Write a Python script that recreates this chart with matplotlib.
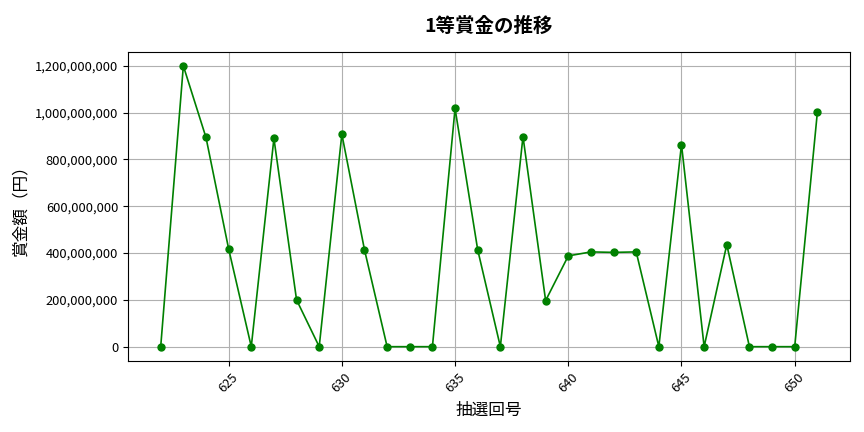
import matplotlib
matplotlib.use("Agg")
import matplotlib.pyplot as plt
from matplotlib.ticker import FuncFormatter

plt.rcParams['font.family'] = ['Noto Sans CJK JP', 'DejaVu Sans']

draws = list(range(622, 652))
prizes = [
    0, 1200000000, 894000000, 418000000, 0, 890000000, 200000000, 0,
    908000000, 414000000, 0, 0, 0, 1018000000, 414000000, 0,
    898000000, 197000000, 388000000, 405000000, 403000000, 405000000, 0,
    864000000, 0, 436000000, 0, 0, 0, 1001000000,
]


def main():
    fig, ax = plt.subplots(figsize=(8.64, 4.32), dpi=100)
    ax.plot(draws, prizes, '-o', color='green', markersize=5, linewidth=1.2)
    ax.set_title("1等賞金の推移", fontsize=14, fontweight='bold', pad=14)
    ax.set_xlabel("抽選回号", fontsize=12, labelpad=5)
    ax.set_ylabel("賞金額（円）", fontsize=12, labelpad=4)
    ax.yaxis.set_major_formatter(FuncFormatter(lambda v, p: f"{int(v):,}"))
    ax.tick_params(axis='x', rotation=45)
    ax.tick_params(labelsize=9.3)
    ax.grid(True, color='#b0b0b0', linewidth=0.8)
    fig.subplots_adjust(left=0.148, right=0.984, top=0.88, bottom=0.165)
    fig.savefig("out.png")


if __name__ == "__main__":
    main()
